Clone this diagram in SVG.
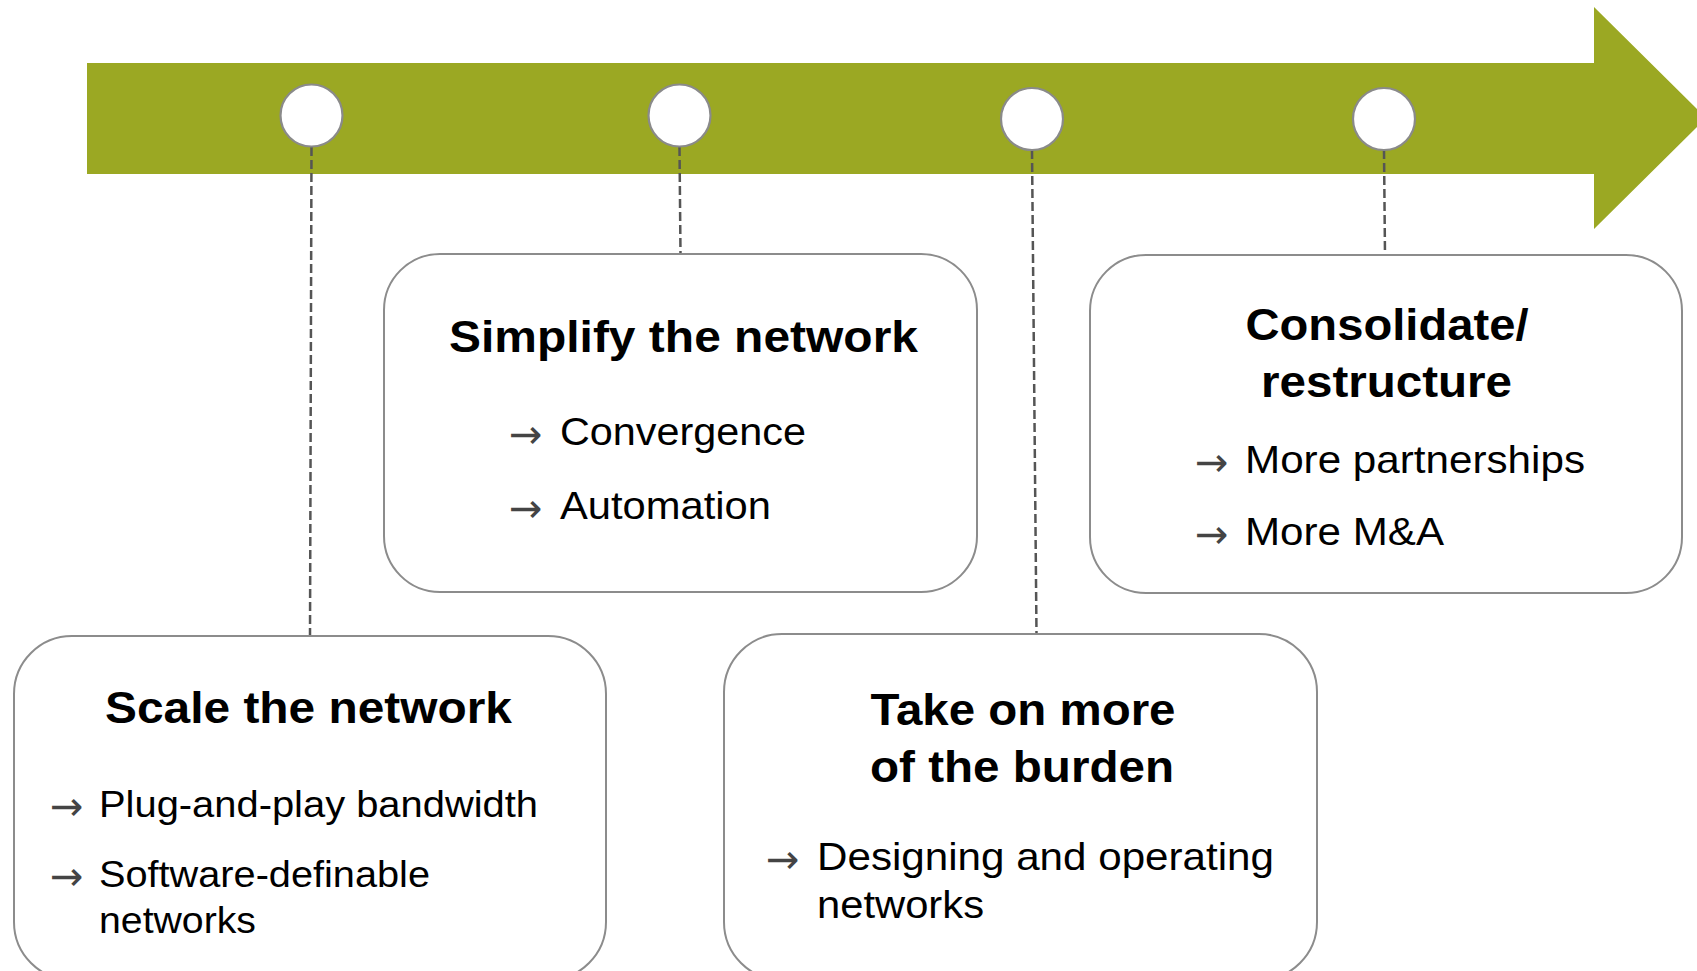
<svg xmlns="http://www.w3.org/2000/svg" width="1697" height="971" viewBox="0 0 1697 971">
  <style>
    .box { fill: #ffffff; stroke: #8c8c8c; stroke-width: 2; }
    .dot { fill: #ffffff; stroke: #8a8a8a; stroke-width: 2.2; }
    .conn { stroke: #555555; stroke-width: 2.5; stroke-dasharray: 9 4; fill: none; }
    .title { font-family: "Liberation Sans", Arial, sans-serif; font-weight: bold; font-size: 45px; fill: #000000; text-anchor: middle; }
    .item { font-family: "Liberation Sans", Arial, sans-serif; font-size: 39px; fill: #000000; }
    .item1 { font-size: 37px; }
    .bul { font-family: "DejaVu Sans", sans-serif; font-size: 40px; fill: #444444; }
  </style>

  <g id="timeline">
    <polygon points="87,63 1594,63 1594,7 1706,118 1594,229 1594,174 87,174" fill="#9ba823"/>
  </g>

  <g id="connectors">
    <line class="conn" x1="311.5" y1="147" x2="310" y2="636"/>
    <line class="conn" x1="679.5" y1="147" x2="680.5" y2="254"/>
    <line class="conn" x1="1032" y1="150" x2="1036.5" y2="634"/>
    <line class="conn" x1="1384" y1="150" x2="1385" y2="255"/>
  </g>

  <g id="milestones">
    <circle id="m1" class="dot" cx="311.5" cy="115.5" r="31"/>
    <circle id="m2" class="dot" cx="679.5" cy="115.5" r="31"/>
    <circle id="m3" class="dot" cx="1032" cy="119" r="31"/>
    <circle id="m4" class="dot" cx="1384" cy="119" r="31"/>
  </g>

  <g id="scale">
    <rect class="box" x="14" y="636" width="592" height="344" rx="58" ry="58"/>
    <text class="title" x="308.5" y="723" textLength="407" lengthAdjust="spacingAndGlyphs">Scale the network</text>
    <text class="bul" x="50" y="820">→</text>
    <text class="item item1" x="99" y="817" textLength="439" lengthAdjust="spacingAndGlyphs">Plug-and-play bandwidth</text>
    <text class="bul" x="50" y="890">→</text>
    <text class="item item1" x="99" y="887" textLength="331" lengthAdjust="spacingAndGlyphs">Software-definable</text>
    <text class="item item1" x="99" y="933" textLength="157" lengthAdjust="spacingAndGlyphs">networks</text>
  </g>

  <g id="simplify">
    <rect class="box" x="384" y="254" width="593" height="338" rx="56" ry="56"/>
    <text class="title" x="683.5" y="352" textLength="469" lengthAdjust="spacingAndGlyphs">Simplify the network</text>
    <text class="bul" x="509" y="448">→</text>
    <text class="item" x="560" y="445" textLength="246" lengthAdjust="spacingAndGlyphs">Convergence</text>
    <text class="bul" x="509" y="522">→</text>
    <text class="item" x="560" y="519" textLength="211" lengthAdjust="spacingAndGlyphs">Automation</text>
  </g>

  <g id="burden">
    <rect class="box" x="724" y="634" width="593" height="346" rx="58" ry="58"/>
    <text class="title" x="1023" y="725" textLength="305" lengthAdjust="spacingAndGlyphs">Take on more</text>
    <text class="title" x="1022" y="782" textLength="304" lengthAdjust="spacingAndGlyphs">of the burden</text>
    <text class="bul" x="766" y="873">→</text>
    <text class="item" x="817" y="870" textLength="457" lengthAdjust="spacingAndGlyphs">Designing and operating</text>
    <text class="item" x="817" y="918" textLength="167" lengthAdjust="spacingAndGlyphs">networks</text>
  </g>

  <g id="consolidate">
    <rect class="box" x="1090" y="255" width="592" height="338" rx="56" ry="56"/>
    <text class="title" x="1387" y="340" textLength="283" lengthAdjust="spacingAndGlyphs">Consolidate/</text>
    <text class="title" x="1386.5" y="397" textLength="251" lengthAdjust="spacingAndGlyphs">restructure</text>
    <text class="bul" x="1195" y="476">→</text>
    <text class="item" x="1245" y="473" textLength="340" lengthAdjust="spacingAndGlyphs">More partnerships</text>
    <text class="bul" x="1195" y="548">→</text>
    <text class="item" x="1245" y="545" textLength="199" lengthAdjust="spacingAndGlyphs">More M&amp;A</text>
  </g>
</svg>
